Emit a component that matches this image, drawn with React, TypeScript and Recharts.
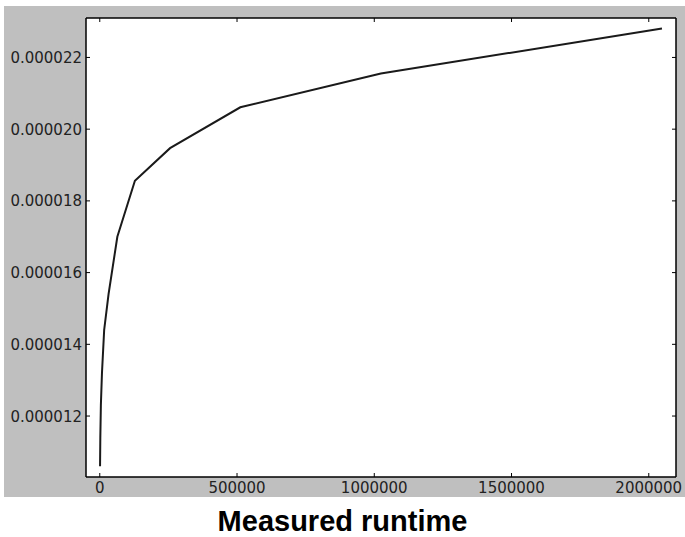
import { LineChart, Line, XAxis, YAxis, CartesianGrid } from 'recharts';

// input sizes (powers of two times 1000) and measured runtime per element
const sizes = [1000, 2000, 4000, 8000, 16000, 32000, 64000, 128000, 256000, 512000, 1024000, 2048000];
const runtimes = [
  0.0000106, 0.0000114, 0.0000123, 0.0000132, 0.0000144, 0.0000154,
  0.000017, 0.00001856, 0.00001947, 0.00002061, 0.00002155, 0.00002281,
];

const xTicks = [0, 500000, 1000000, 1500000, 2000000];
const yTicks = [0.000012, 0.000014, 0.000016, 0.000018, 0.00002, 0.000022];

const data = sizes.map((n, i) => ({ n, t: runtimes[i] }));

const TICK_FONT = { fontFamily: '"DejaVu Sans", sans-serif', fontSize: 15, fill: '#222' };

const LeftTick = (props: any) => {
  const { x, y, payload } = props;
  return (
    <g>
      <line x1={x} x2={x + 4} y1={y} y2={y} stroke="#000" />
      <text x={x - 4} y={y + 5.5} textAnchor="end" {...TICK_FONT}>
        {Number(payload.value).toFixed(6)}
      </text>
    </g>
  );
};

const BottomTick = (props: any) => {
  const { x, y, payload } = props;
  return (
    <g>
      <line x1={x} x2={x} y1={y} y2={y - 4} stroke="#000" />
      <text x={x} y={y + 16} textAnchor="middle" {...TICK_FONT}>
        {payload.value}
      </text>
    </g>
  );
};

// mirrored ticks on top / right, no labels
const TopTick = (props: any) => {
  const { x, y } = props;
  return <line x1={x} x2={x} y1={y} y2={y + 4} stroke="#000" />;
};

const RightTick = (props: any) => {
  const { x, y } = props;
  return <line x1={x - 4} x2={x} y1={y} y2={y} stroke="#000" />;
};

const X_DOMAIN: [number, number] = [-50175, 2099175];
const Y_DOMAIN: [number, number] = [0.0000103, 0.0000231];

const App = () => {
  return (
    <div style={{ position: 'absolute', left: 0, top: 0, width: 685, height: 537, background: '#fff' }}>
      <div style={{ position: 'absolute', left: 4, top: 6, width: 681, height: 491, background: '#bfbfbf' }}>
        <LineChart width={681} height={491} data={data} margin={{ top: 11, right: 8, bottom: 0, left: 0 }}>
          <CartesianGrid fill="#ffffff" horizontal={false} vertical={false} />
          <XAxis
            dataKey="n"
            type="number"
            domain={X_DOMAIN}
            allowDataOverflow
            ticks={xTicks}
            height={20}
            tickSize={0}
            tickMargin={0}
            tickLine={false}
            axisLine={{ stroke: '#000', strokeWidth: 1.5 }}
            tick={<BottomTick />}
          />
          <XAxis
            xAxisId="top"
            dataKey="n"
            orientation="top"
            type="number"
            domain={X_DOMAIN}
            allowDataOverflow
            ticks={xTicks}
            height={1}
            tickSize={0}
            tickMargin={0}
            tickLine={false}
            axisLine={{ stroke: '#000', strokeWidth: 1.5 }}
            tick={<TopTick />}
          />
          <YAxis
            type="number"
            domain={Y_DOMAIN}
            allowDataOverflow
            ticks={yTicks}
            width={82}
            tickSize={0}
            tickMargin={0}
            tickLine={false}
            axisLine={{ stroke: '#000', strokeWidth: 1.5 }}
            tick={<LeftTick />}
          />
          <YAxis
            yAxisId="right"
            orientation="right"
            type="number"
            domain={Y_DOMAIN}
            allowDataOverflow
            ticks={yTicks}
            width={1}
            tickSize={0}
            tickMargin={0}
            tickLine={false}
            axisLine={{ stroke: '#000', strokeWidth: 1.5 }}
            tick={<RightTick />}
          />
          {/* invisible copy so the mirrored frame axes get drawn */}
          <Line
            xAxisId="top"
            yAxisId="right"
            type="linear"
            dataKey="t"
            stroke="none"
            dot={false}
            legendType="none"
            isAnimationActive={false}
          />
          <Line
            type="linear"
            dataKey="t"
            stroke="#1a1a1a"
            strokeWidth={2}
            dot={false}
            isAnimationActive={false}
          />
        </LineChart>
      </div>
      <div
        style={{
          position: 'absolute',
          left: 0,
          top: 507,
          width: 685,
          textAlign: 'center',
          fontFamily: '"Liberation Sans", Arial, sans-serif',
          fontWeight: 'bold',
          fontSize: 29,
          lineHeight: '29px',
          color: '#000',
        }}
      >
        Measured runtime
      </div>
    </div>
  );
};

export default App;
